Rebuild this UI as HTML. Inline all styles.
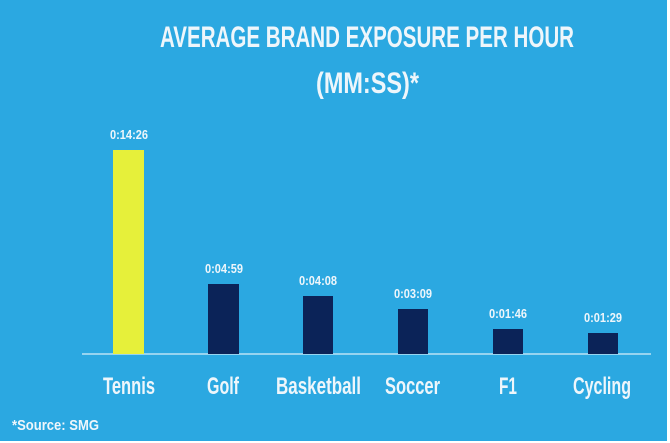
<!DOCTYPE html>
<html><head><meta charset="utf-8"><style>
html,body{margin:0;padding:0;background:#fff;}
svg{display:block;}
text{font-family:"Liberation Sans",sans-serif;font-weight:bold;fill:#eef6fb;}
</style></head><body>
<svg width="670" height="443" viewBox="0 0 670 443">
<rect x="0" y="0" width="667" height="441" fill="#2ba8e1"/>
<text x="160" y="47" font-size="30" textLength="414" lengthAdjust="spacingAndGlyphs">AVERAGE BRAND EXPOSURE PER HOUR</text>
<text x="316" y="93" font-size="30" textLength="103" lengthAdjust="spacingAndGlyphs">(MM:SS)*</text>
<line x1="82" y1="354" x2="651" y2="354" stroke="#b9e2f5" stroke-width="1.5"/>
<rect x="113" y="150" width="31" height="204" fill="#e6f03a"/>
<rect x="208" y="284" width="31" height="70" fill="#0b2358"/>
<rect x="303" y="296" width="30" height="58" fill="#0b2358"/>
<rect x="398" y="309" width="30" height="45" fill="#0b2358"/>
<rect x="493" y="329" width="30" height="25" fill="#0b2358"/>
<rect x="588" y="333" width="30" height="21" fill="#0b2358"/>
<g font-size="13">
<text x="110" y="139" textLength="38" lengthAdjust="spacingAndGlyphs">0:14:26</text>
<text x="205" y="273" textLength="38" lengthAdjust="spacingAndGlyphs">0:04:59</text>
<text x="299" y="285" textLength="38" lengthAdjust="spacingAndGlyphs">0:04:08</text>
<text x="394" y="298" textLength="38" lengthAdjust="spacingAndGlyphs">0:03:09</text>
<text x="489" y="318" textLength="38" lengthAdjust="spacingAndGlyphs">0:01:46</text>
<text x="584" y="322" textLength="38" lengthAdjust="spacingAndGlyphs">0:01:29</text>
</g>
<g font-size="24">
<text x="103" y="394" textLength="52" lengthAdjust="spacingAndGlyphs">Tennis</text>
<text x="207" y="394" textLength="32" lengthAdjust="spacingAndGlyphs">Golf</text>
<text x="276" y="394" textLength="85" lengthAdjust="spacingAndGlyphs">Basketball</text>
<text x="385" y="394" textLength="55" lengthAdjust="spacingAndGlyphs">Soccer</text>
<text x="499" y="394" textLength="18" lengthAdjust="spacingAndGlyphs">F1</text>
<text x="573" y="394" textLength="58" lengthAdjust="spacingAndGlyphs">Cycling</text>
</g>
<text x="12" y="430" font-size="15" textLength="87" lengthAdjust="spacingAndGlyphs">*Source:  SMG</text>
</svg>
</body></html>
